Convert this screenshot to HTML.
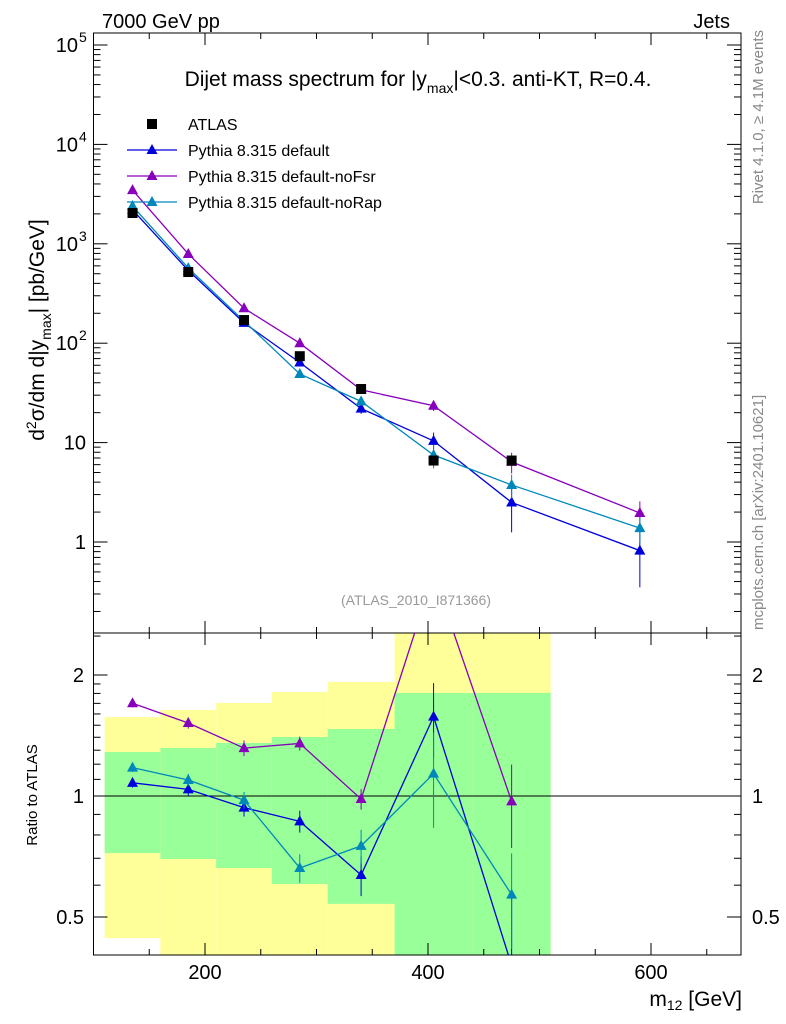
<!DOCTYPE html>
<html><head><meta charset="utf-8"><style>
html,body{margin:0;padding:0;background:#fff;overflow:hidden;width:786px;height:1024px;}
svg{display:block;font-family:"Liberation Sans",sans-serif;}
</style></head><body>
<svg id="c" width="786" height="1024" xmlns="http://www.w3.org/2000/svg">
<text x="102" y="28" font-size="20">7000 GeV pp</text>
<text x="730" y="28" font-size="20" text-anchor="end">Jets</text>
<text x="418" y="86" font-size="21" text-anchor="middle">Dijet mass spectrum for |y<tspan font-size="14" dy="7">max</tspan><tspan dy="-7">|&lt;0.3.  anti-KT, R=0.4.</tspan></text>
<text transform="translate(763,30) rotate(-90)" font-size="15" fill="#888" text-anchor="end">Rivet 4.1.0, ≥ 4.1M events</text>
<text transform="translate(763,630) rotate(-90)" font-size="15" fill="#888">mcplots.cern.ch [arXiv:2401.10621]</text>
<text x="416" y="605" font-size="14" fill="#999" text-anchor="middle">(ATLAS_2010_I871366)</text>
<text transform="translate(44,330) rotate(-90)" font-size="21" text-anchor="middle">d<tspan font-size="14" dy="-8">2</tspan><tspan dy="8">σ/dm d|y</tspan><tspan font-size="14" dy="7">max</tspan><tspan dy="-7">| [pb/GeV]</tspan></text>
<text transform="translate(37,795) rotate(-90)" font-size="15" text-anchor="middle">Ratio to ATLAS</text>
<text x="742" y="1006" font-size="21" text-anchor="end">m<tspan font-size="14" dy="4">12</tspan><tspan dy="-4"> [GeV]</tspan></text>
<g id="g"></g>
</svg>
<script>
const xCenters=[135,185,235,285,340,405,475,590];
const atlasVals=[2040,520,171,74,34.6,6.6,6.6];
const binEdges=[110,160,210,260,310,370,440,510];
const greenHi=[1.287,1.316,1.355,1.402,1.468,1.805,1.805];
const greenLo=[0.721,0.697,0.662,0.604,0.539,0.3,0.3];
const yellowHi=[1.572,1.637,1.704,1.814,1.922,3,3];
const yellowLo=[0.443,0.3,0.3,0.3,0.3,0.3,0.3];
const defVals=[2200,540,160,64,22,10.4,2.5,0.82];
const defErr=[60,20,8,4,2.5,2.2,1.25,0.47];
const fsrVals=[3470,790,225,100,34,23.5,6.4,1.96];
const fsrErr=[80,25,10,4,2,2.7,1.5,0.6];
const rapVals=[2400,570,167,49,26,7.5,3.75,1.38];
const rapErr=[60,20,8,4,2.5,2,1,0.4];
const SW=["#0000dd","#8800bb","#0088bb"];
const NS="http://www.w3.org/2000/svg";
const g=document.getElementById('g');
const L=93.5,R=741,T=33,M=633,B=955;
const X=v=>L+(v-100)*1.115;
const Y=v=>542-Math.log10(v)*99.4;
const YR=v=>796-Math.log2(v)*121;
const YC=v=>Math.max(M-12,Math.min(B+12,YR(v)));
function el(t,a,p){const e=document.createElementNS(NS,t);for(const k in a)e.setAttribute(k,a[k]);(p||g).appendChild(e);return e;}
for(let i=0;i<7;i++){
 const x0=X(binEdges[i]),x1=X(i<6?binEdges[i+1]:510);
 const yb=el('rect',{x:x0,y:Math.max(M,YR(yellowHi[i])),width:x1-x0,height:Math.min(B,YR(yellowLo[i]))-Math.max(M,YR(yellowHi[i])),fill:"#ffff99"});
 
 
 const gb=el('rect',{x:x0,y:Math.max(M,YR(greenHi[i])),width:x1-x0,height:Math.min(B,YR(greenLo[i]))-Math.max(M,YR(greenHi[i])),fill:"#99ff99"});
 
 
}
el('line',{x1:L,x2:R,y1:YR(1),y2:YR(1),stroke:"#000","stroke-width":1});
el('rect',{x:L,y:T,width:R-L,height:M-T,fill:"none",stroke:"#000"});
el('rect',{x:L,y:M,width:R-L,height:B-M,fill:"none",stroke:"#000"});
for(let v=100;v<=680;v+=50){const maj=v%200==0;const l=maj?12:6;
 for(const [y,d] of [[T,1],[M,-1],[M,1],[B,-1]]) el('line',{x1:X(v),x2:X(v),y1:y,y2:y+d*l,stroke:"#000"});
 if(maj){const t=el('text',{x:X(v),y:B+24,"font-size":20,"text-anchor":"middle"});t.textContent=v;
 
 }}
for(let e=-1;e<=5;e++)for(let m=1;m<10;m++){const v=m*Math.pow(10,e);const y=Y(v);if(y<T||y>M)continue;const l=m==1?14:7;
 el('line',{x1:L,x2:L+l,y1:y,y2:y,stroke:"#000"});el('line',{x1:R,x2:R-l,y1:y,y2:y,stroke:"#000"});}
const yl=[[5,"10","5"],[4,"10","4"],[3,"10","3"],[2,"10","2"],[1,"10",""],[0,"1",""]];
for(const [e,b,s] of yl){const t=el('text',{x:s?78:86,y:Y(Math.pow(10,e))+7,"font-size":20,"text-anchor":"end"});t.textContent=b;
 
 
 if(s){const u=el('text',{x:79,y:Y(Math.pow(10,e))-3,"font-size":14});u.textContent=s;}}
for(const v of [0.4,0.5,0.6,0.7,0.8,0.9,1,1.1,1.2,1.3,1.4,1.5,1.6,1.7,1.8,1.9,2,2.5]){const y=YR(v);if(y<M||y>B)continue;const l=[0.5,1,2].includes(v)?14:7;
 el('line',{x1:L,x2:L+l,y1:y,y2:y,stroke:"#000"});el('line',{x1:R,x2:R-l,y1:y,y2:y,stroke:"#000"});}
for(const v of [2,1,0.5]){for(const [x,a] of [[84,"end"],[752,"start"]]){const t=el('text',{x:x,y:YR(v)+7,"font-size":20,"text-anchor":a});t.textContent=v;
 
 }}
const defs=el('defs',{});
const cp=el('clipPath',{id:"rc"},defs);el('rect',{x:L,y:M,width:R-L,height:B-M},cp);
const cm=el('clipPath',{id:"mc"},defs);el('rect',{x:L,y:T,width:R-L,height:M-T},cm);
const rg=el('g',{"clip-path":"url(#rc)"});const mg=el('g',{"clip-path":"url(#mc)"});
function tri(p,x,y,c){el('polygon',{points:`${x},${y-6} ${x-5.5},${y+4} ${x+5.5},${y+4}`,fill:c},p);}
function lerpPts(a,b){ // clip segment endpoints to the panel range by linear interpolation in pixel space
 const lo=M-12,hi=B+12;let [x1,y1]=a,[x2,y2]=b;
 const f=(y)=>x1+(x2-x1)*(y-y1)/(y2-y1);
 if(y1>hi&&y2>hi||y1<lo&&y2<lo)return null;
 if(y1>hi){x1=f(hi);y1=hi;} if(y1<lo){x1=f(lo);y1=lo;}
 const ox1=x1,oy1=y1;
 x1=a[0];y1=a[1];
 if(y2>hi){x2=f(hi);y2=hi;} if(y2<lo){x2=f(lo);y2=lo;}
 return [[ox1,oy1],[x2,y2]];
}
const series=[[defVals,defErr,SW[0],'pythia-default'],[fsrVals,fsrErr,SW[1],'pythia-nofsr'],[rapVals,rapErr,SW[2],'pythia-norap']];
for(const [vals,err,c,n] of series){
 const pl=el('polyline',{points:vals.map((v,i)=>X(xCenters[i])+","+Y(v)).join(" "),fill:"none",stroke:c,"stroke-width":1.3},mg);
 
 
 const raw=[];
 vals.forEach((v,i)=>{const x=X(xCenters[i]);
  el('line',{x1:x,x2:x,y1:Y(v+err[i]),y2:Math.min(M,Y(Math.max(v-err[i],0.01))),stroke:c},mg);
  tri(mg,x,Y(v),c);
  if(i<atlasVals.length){const r=v/atlasVals[i],re=err[i]/atlasVals[i];raw.push([x,YR(r)]);
   el('line',{x1:x,x2:x,y1:YC(r+re),y2:YC(Math.max(r-re,0.05)),stroke:c},rg);
   if(YR(r)>M-8&&YR(r)<B+8)tri(rg,x,YR(r),c);}
 });
 for(let k=0;k<raw.length-1;k++){
  const s=lerpPts(raw[k],raw[k+1]);if(!s)continue;
  const rl=el('line',{x1:s[0][0],y1:s[0][1],x2:s[1][0],y2:s[1][1],stroke:c,"stroke-width":1.3},rg);
  
  
 }
}
atlasVals.forEach((v,i)=>{const s=el('rect',{x:X(xCenters[i])-5,y:Y(v)-5,width:10,height:10,fill:"#000"},mg);
 
 });
const lg=[["ATLAS","#000",0],["Pythia 8.315 default",SW[0],1],["Pythia 8.315 default-noFsr",SW[1],1],["Pythia 8.315 default-noRap",SW[2],1]];
lg.forEach((d,i)=>{const y=124+i*26;
 if(d[2]){el('line',{x1:127,x2:177,y1:y,y2:y,stroke:d[1],"stroke-width":1.3});tri(g,152,y,d[1]);}
 else el('rect',{x:147,y:y-5,width:10,height:10,fill:"#000"});
 const t=el('text',{x:188,y:y+6,"font-size":16});t.textContent=d[0];
 
 });
</script>
</body></html>
